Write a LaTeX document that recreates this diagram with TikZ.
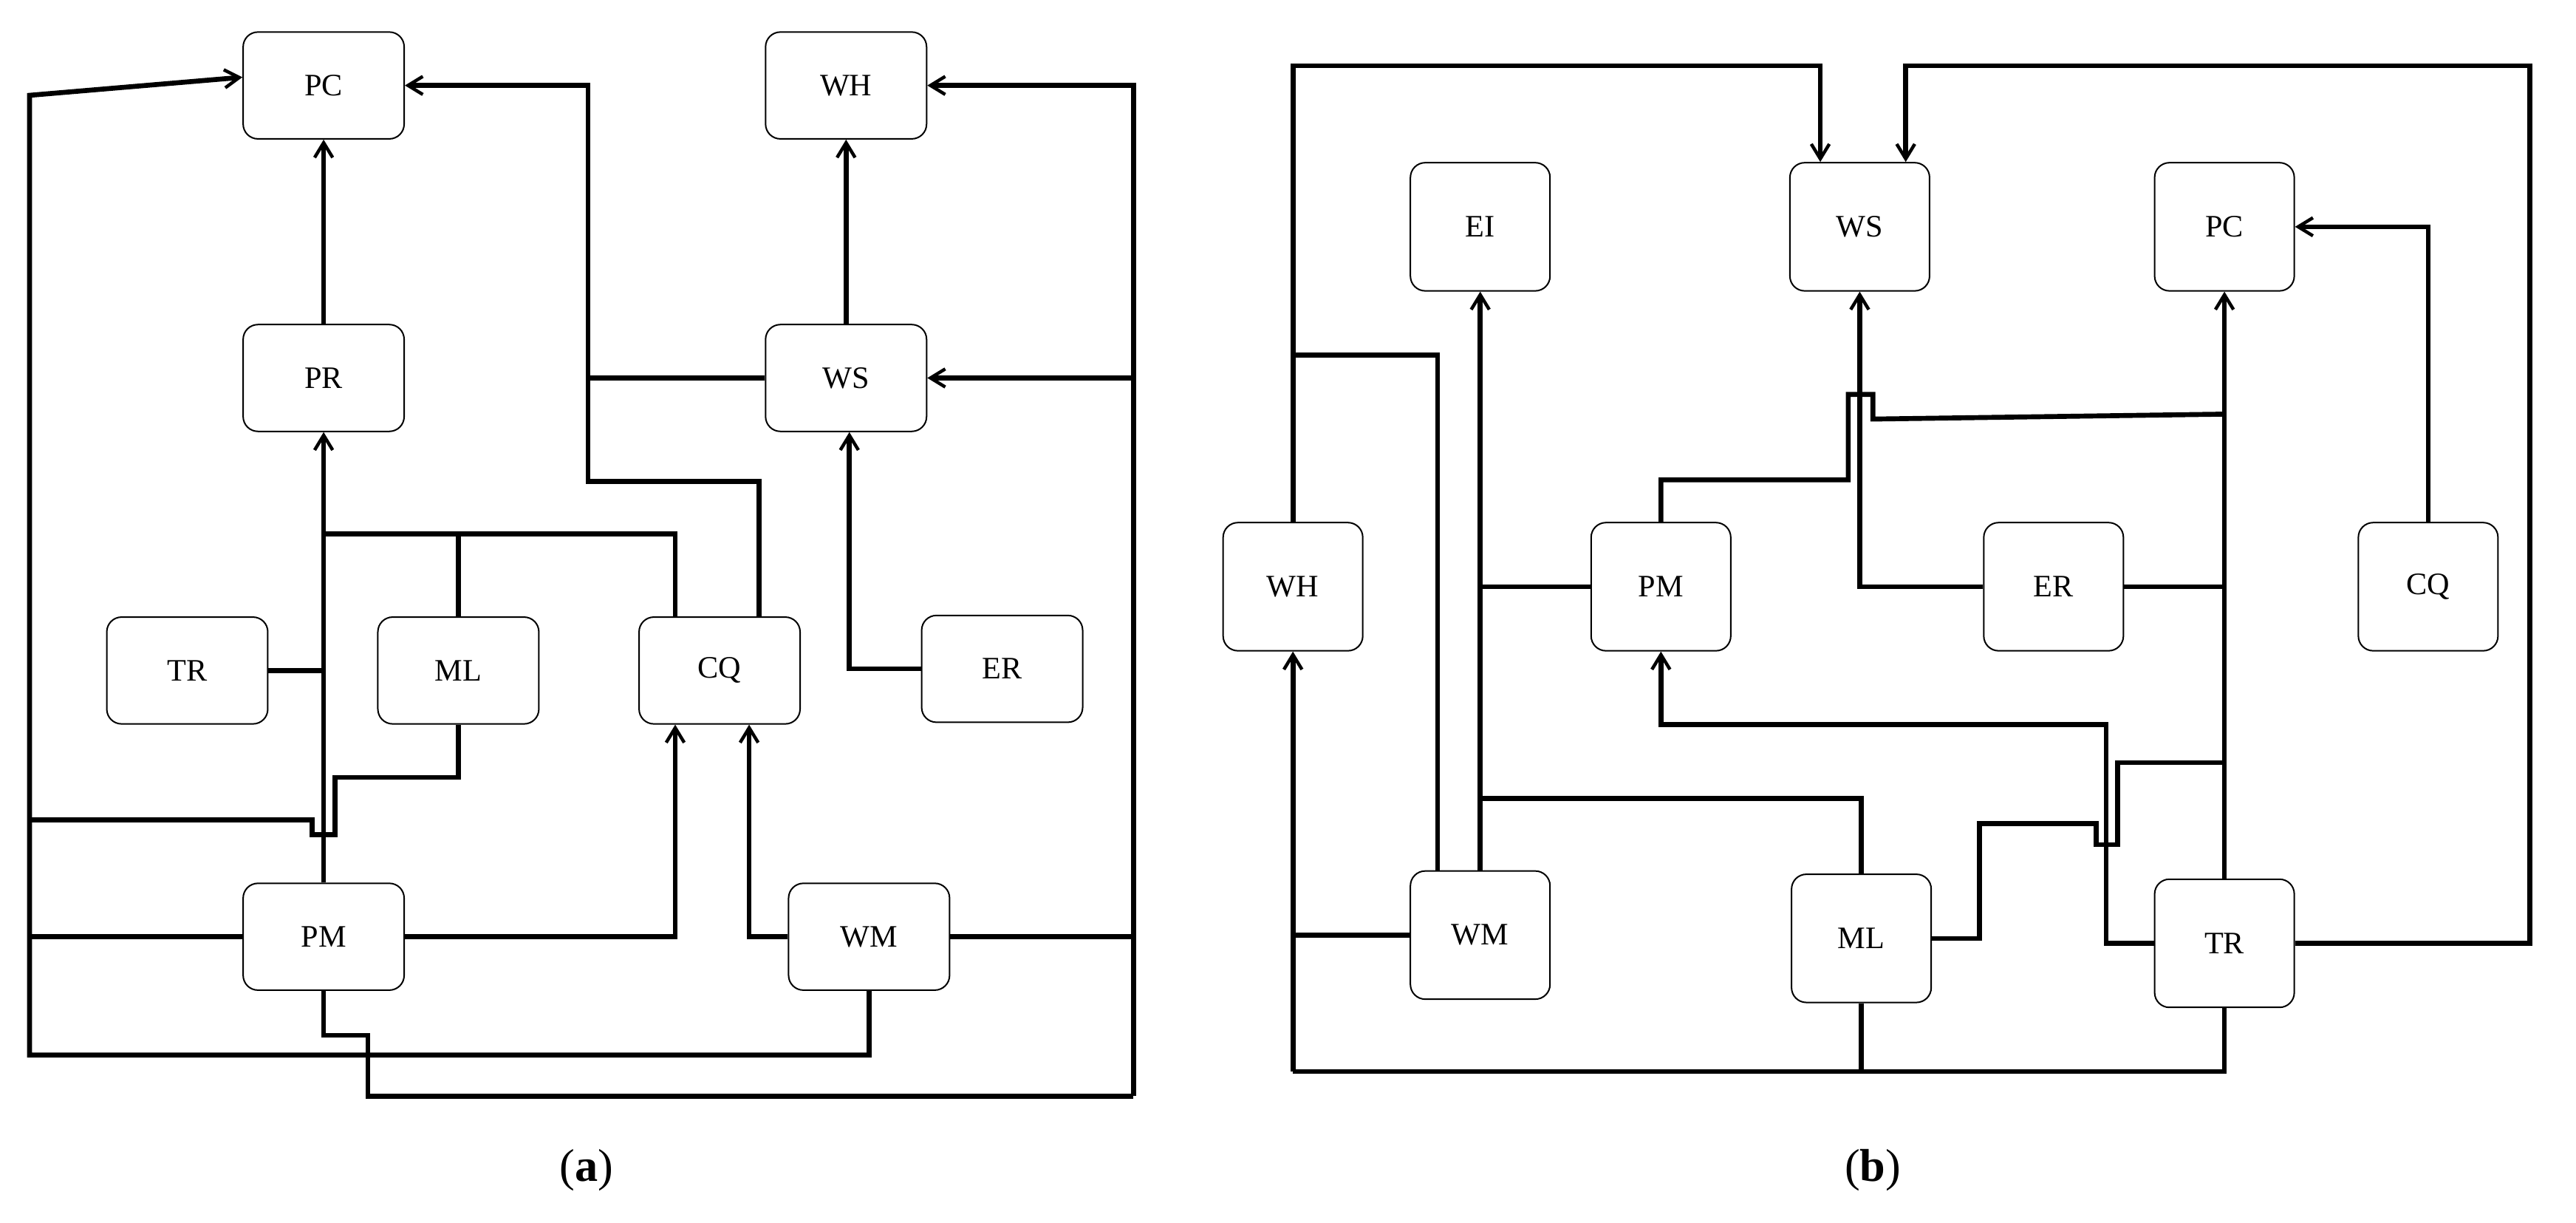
\documentclass[tikz,border=0pt]{standalone}
\usepackage{fontspec}
\setmainfont{Liberation Serif}
\usetikzlibrary{arrows.meta}
\begin{document}
\begin{tikzpicture}[x=1pt,y=-1pt,
  box/.style={draw,rounded corners=9pt,line width=0.9pt,minimum width=98pt,minimum height=65pt,font=\fontsize{19}{22}\selectfont,fill=white},
  boxb/.style={box,minimum width=85pt,minimum height=78pt},
  ln/.style={line width=3pt,line join=miter},
  arr/.style={ln,-{Straight Barb[length=9pt,width=11pt,line width=2pt]}},
  captxt/.style={font=\fontsize{28}{32}\selectfont}]
\useasboundingbox (0,0) rectangle (1568,744);
% ---------- (a)
\node[box] (PC) at (197,52) {PC};
\node[box] (WH) at (515,52) {WH};
\node[box] (PR) at (197,230) {PR};
\node[box] (WS) at (515,230) {WS};
\node[box] (TR) at (114,408) {TR};
\node[box] (ML) at (279,408) {ML};
\node[box] (CQ) at (438,408) {CQ};
\node[box] (ER) at (610,407) {ER};
\node[box] (PM) at (197,570) {PM};
\node[box] (WM) at (529,570) {WM};
\draw[arr] (PR.north) -- (PC.south);
\draw[arr] (WS.north) -- (WH.south);
\draw[arr] (WM.south) |- (18,642) -- (18,58) -- ([yshift=5pt]PC.west);
\draw[ln] (18,499) -- (190,499) -- (190,508) -- (204,508) -- (204,473) -| (ML.south);
\draw[ln] (18,570) -- (PM.west);
\draw[arr] (PM.north) -- (PR.south);
\draw[ln] (TR.east) -- (197,408);
\draw[ln] (197,325) -| ([xshift=-27pt]CQ.north);
\draw[ln] (ML.north) -- (279,325);
\draw[arr] ([xshift=24pt]CQ.north) |- (358,293) -- (358,52) -- (PC.east);
\draw[ln] (WS.west) -- (358,230);
\draw[arr] (ER.west) -| ([xshift=2pt]WS.south);
\draw[arr] (PM.east) -| ([xshift=-27pt]CQ.south);
\draw[arr] (WM.west) -| ([xshift=18pt]CQ.south);
\draw[arr] (690,667) -- (690,52) -- (WH.east);
\draw[arr] (690,230) -- (WS.east);
\draw[ln] (WM.east) -- (690,570);
\draw[ln] (PM.south) -- (197,630) -- (224,630) -- (224,667) -- (690,667);
\node[captxt] (la) at (357,712) {(\textbf{a})};
% ---------- (b)
\node[boxb] (EI) at (901,138) {EI};
\node[boxb] (WS2) at (1132,138) {WS};
\node[boxb] (PC2) at (1354,138) {PC};
\node[boxb] (WH2) at (787,357) {WH};
\node[boxb] (PM2) at (1011,357) {PM};
\node[boxb] (ER2) at (1250,357) {ER};
\node[boxb] (CQ2) at (1478,357) {CQ};
\node[boxb] (WM2) at (901,569) {WM};
\node[boxb] (ML2) at (1133,571) {ML};
\node[boxb] (TR2) at (1354,574) {TR};
\draw[arr] (WH2.north) -- (787,40) -| ([xshift=-24pt]WS2.north);
\draw[arr] (TR2.east) -| (1540,40) -| ([xshift=28pt]WS2.north);
\draw[arr] (CQ2.north) |- (PC2.east);
\draw[arr] (TR2.north) -- (PC2.south);
\draw[ln] (ER2.east) -- (1354,357);
\draw[arr] (ER2.west) -| (WS2.south);
\draw[ln] (PM2.north) |- (1125,292) -- (1125,240) -- (1140,240) -- (1140,255) -- (1354,252);
\draw[ln] (787,216) -| ([xshift=-26pt]WM2.north);
\draw[arr] (WM2.north) -- (EI.south);
\draw[ln] (PM2.west) -- (901,357);
\draw[ln] (901,486) -| (ML2.north);
\draw[arr] (TR2.west) -| (1282,441) -| (PM2.south);
\draw[ln] (ML2.east) -| (1205,501) -| (1276,514) -- (1289,514) |- (1354,464);
\draw[ln] (TR2.south) |- (787,652);
\draw[arr] (787,652) -- (WH2.south);
\draw[ln] (WM2.west) -- (787,569);
\draw[ln] (ML2.south) -- (1133,652);
\node[captxt] (lb) at (1140,712) {(\textbf{b})};
\end{tikzpicture}
\end{document}
